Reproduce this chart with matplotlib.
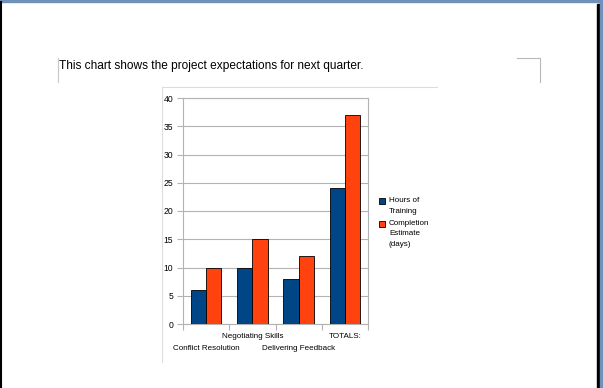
import matplotlib.pyplot as plt
import numpy as np
from matplotlib.lines import Line2D
from matplotlib.patches import Rectangle

plt.rcParams['font.family'] = ['Liberation Sans', 'DejaVu Sans']

# data
categories = ['Conflict Resolution', 'Negotiating Skills', 'Delivering Feedback', 'TOTALS:']
hours_training = [6, 10, 8, 24]
completion_days = [10, 15, 12, 37]
series_names = ['Hours of\nTraining', 'Completion\nEstimate\n(days)']
series_colors = ['#004586', '#ff420e']
caption = 'This chart shows the project expectations for next quarter.'

W, H = 603, 388
fig = plt.figure(figsize=(W / 100, H / 100), dpi=100)


def px(x, y):
    # pixel coords (top-left origin) -> figure fraction
    return x / W, 1 - y / H


# page frame of the screenshot
fig.patches.append(Rectangle((0, 1 - 2 / H), 1, 2 / H, transform=fig.transFigure,
                             color='#7090b8', zorder=0))
fig.patches.append(Rectangle((597 / W, 0), 3 / W, 1 - 4 / H, transform=fig.transFigure,
                             color='black', zorder=0))
fig.patches.append(Rectangle((600 / W, 0), 3 / W, 1, transform=fig.transFigure,
                             color='#7090b8', zorder=0))
fig.lines.append(Line2D([0.5 / W, 0.5 / W], [0, 1 - 2 / H], transform=fig.transFigure,
                        color='black', lw=1.5))

# caption text box corners
fig.lines.append(Line2D([58 / W, 58 / W], [1 - 58 / H, 1 - 82 / H],
                        transform=fig.transFigure, color='#c8c8c8', lw=0.8))
fig.lines.append(Line2D([517 / W, 540 / W, 540 / W], [1 - 58 / H, 1 - 58 / H, 1 - 82 / H],
                        transform=fig.transFigure, color='#b8b8b8', lw=0.8))
fig.text(*px(59, 66), caption, fontsize=8.6, va='center', ha='left')

# chart object frame
fig.lines.append(Line2D([162 / W, 437 / W], [1 - 87 / H, 1 - 87 / H],
                        transform=fig.transFigure, color='#dddddd', lw=0.8))
fig.lines.append(Line2D([162 / W, 162 / W], [1 - 87 / H, 1 - 362 / H],
                        transform=fig.transFigure, color='#dddddd', lw=0.8))

# plot area
l, b = px(183, 324)
r, t = px(368, 98)
ax = fig.add_axes([l, b, r - l, t - b])

x = np.arange(len(categories))
w = 0.33
for k, vals in enumerate([hours_training, completion_days]):
    ax.bar(x + (k - 0.5) * w, vals, w, color=series_colors[k], edgecolor='black',
           lw=0.6, zorder=3)

ax.set_xlim(-0.5, len(categories) - 0.5)
ax.set_ylim(0, 40)
ax.set_yticks(np.arange(0, 41, 5))
ax.yaxis.grid(True, color='#b3b3b3', lw=0.8, zorder=0)
ax.set_xticks(np.arange(-0.5, len(categories), 1))
ax.set_xticklabels([])
ax.tick_params(axis='x', length=4, color='#b3b3b3', width=0.8)
ax.tick_params(axis='y', length=4, color='#b3b3b3', width=0.8, labelsize=6.2, pad=3)
for s in ax.spines.values():
    s.set_color('#b3b3b3')
    s.set_linewidth(0.8)

# staggered category labels
for i, c in enumerate(categories):
    ax.annotate(c, (x[i], 0), xycoords=('data', 'axes fraction'),
                xytext=(0, -12 if i % 2 else -24), textcoords='offset pixels',
                ha='center', va='center', fontsize=5.8)

# legend, first line of each entry next to its swatch
ly = 197
for name, col in zip(series_names, series_colors):
    fig.patches.append(Rectangle(px(379, ly + 7), 6 / W, 6 / H, transform=fig.transFigure,
                                 facecolor=col, edgecolor='black', lw=0.6))
    fig.text(*px(389, ly), name, fontsize=5.8, va='top', ha='left', linespacing=1.75)
    ly += 11.3 * (name.count('\n') + 1)

fig.savefig('out.png', dpi=100)
